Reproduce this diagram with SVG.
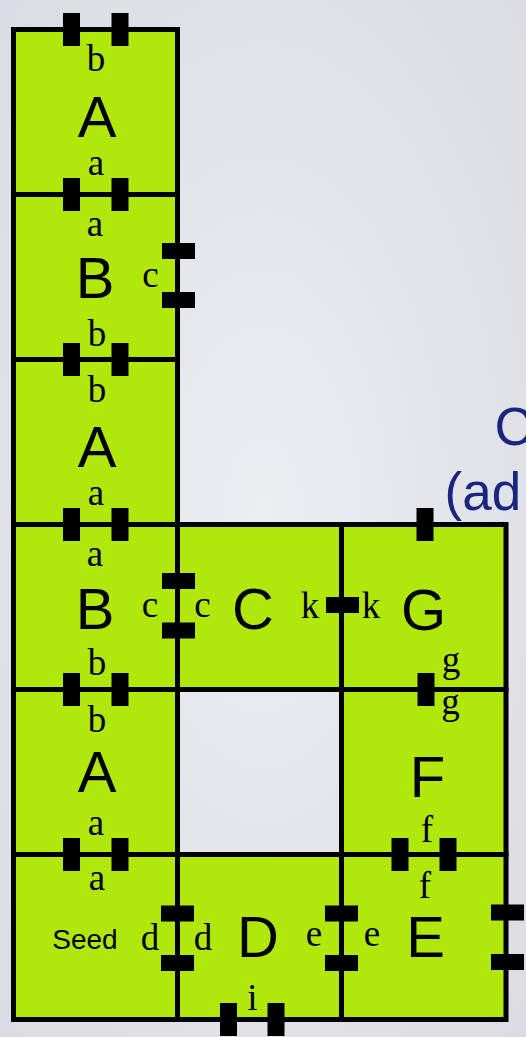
<svg xmlns="http://www.w3.org/2000/svg" width="526" height="1037" viewBox="0 0 526 1037">
<defs>
<radialGradient id="bg" cx="50%" cy="50%" r="75%">
<stop offset="0" stop-color="#eceef2"/>
<stop offset="1" stop-color="#d8dbe1"/>
</radialGradient>
<style>
.tile{fill:#b0e80c;stroke:#000;stroke-width:5}
.tab{fill:#000}
.s{font-family:"Liberation Serif","Times New Roman",serif;font-size:37px;fill:#000;text-anchor:middle}
.L{font-family:"Liberation Sans",Arial,sans-serif;font-size:58px;fill:#000;text-anchor:middle}
.seed{font-family:"Liberation Sans",Arial,sans-serif;font-size:28px;fill:#000;text-anchor:middle}
.t{font-family:"Liberation Sans",Arial,sans-serif;font-size:53px;fill:#1a2580}
</style>
</defs>
<rect x="0" y="0" width="526" height="1037" fill="url(#bg)"/>
<g id="title">
<text class="t" x="494.5" y="445">C</text>
<text class="t" x="444.5" y="510">(ad</text>
</g>
<g id="tile-A1">
<rect class="tile" x="13.5" y="29.5" width="164" height="165"/>
<text class="s" x="96" y="71">b</text>
<text class="L" x="97" y="137">A</text>
<text class="s" x="96" y="175">a</text>
</g>
<g id="tile-B2">
<rect class="tile" x="13.5" y="194.5" width="164" height="165"/>
<text class="s" x="95" y="236">a</text>
<text class="L" x="95" y="298">B</text>
<text class="s" x="150.5" y="287">c</text>
<text class="s" x="97" y="346">b</text>
</g>
<g id="tile-A3">
<rect class="tile" x="13.5" y="359.5" width="164" height="165"/>
<text class="s" x="97" y="402">b</text>
<text class="L" x="97" y="467">A</text>
<text class="s" x="96" y="505">a</text>
</g>
<g id="tile-B4">
<rect class="tile" x="13.5" y="524.5" width="164" height="165"/>
<text class="s" x="95" y="566">a</text>
<text class="L" x="95" y="629">B</text>
<text class="s" x="150" y="617">c</text>
<text class="s" x="97" y="675">b</text>
</g>
<g id="tile-A5">
<rect class="tile" x="13.5" y="689.5" width="164" height="165"/>
<text class="s" x="97" y="732">b</text>
<text class="L" x="97" y="792">A</text>
<text class="s" x="96" y="835">a</text>
</g>
<g id="tile-Seed">
<rect class="tile" x="13.5" y="854.5" width="164" height="165"/>
<text class="s" x="97" y="890">a</text>
<text class="seed" x="85" y="949">Seed</text>
<text class="s" x="150" y="950">d</text>
</g>
<g id="tile-C">
<rect class="tile" x="177.5" y="524.5" width="164" height="165"/>
<text class="s" x="202.5" y="617">c</text>
<text class="L" x="253" y="629">C</text>
<text class="s" x="310" y="618">k</text>
</g>
<g id="tile-G">
<rect class="tile" x="341.5" y="524.5" width="164.5" height="165"/>
<text class="s" x="371" y="618">k</text>
<text class="L" x="423.5" y="630">G</text>
<text class="s" x="451" y="672">g</text>
</g>
<g id="tile-F">
<rect class="tile" x="341.5" y="689.5" width="164.5" height="165"/>
<text class="s" x="450.5" y="714">g</text>
<text class="L" x="427.5" y="797">F</text>
<text class="s" x="427" y="842">f</text>
</g>
<g id="tile-D">
<rect class="tile" x="177.5" y="854.5" width="164" height="165"/>
<text class="s" x="203" y="950">d</text>
<text class="L" x="258" y="957">D</text>
<text class="s" x="314" y="946">e</text>
<text class="s" x="252.5" y="1010">i</text>
</g>
<g id="tile-E">
<rect class="tile" x="341.5" y="854.5" width="164.5" height="165"/>
<text class="s" x="425" y="898">f</text>
<text class="s" x="372" y="946">e</text>
<text class="L" x="425.5" y="957">E</text>
</g>
<g id="glues">
<rect class="tab" x="63" y="13" width="17" height="33"/>
<rect class="tab" x="111.5" y="13" width="17" height="33"/>
<rect class="tab" x="63" y="178" width="17" height="33"/>
<rect class="tab" x="111.5" y="178" width="17" height="33"/>
<rect class="tab" x="63" y="343" width="17" height="33"/>
<rect class="tab" x="111.5" y="343" width="17" height="33"/>
<rect class="tab" x="63" y="508" width="17" height="33"/>
<rect class="tab" x="111.5" y="508" width="17" height="33"/>
<rect class="tab" x="63" y="673" width="17" height="33"/>
<rect class="tab" x="111.5" y="673" width="17" height="33"/>
<rect class="tab" x="63" y="838" width="17" height="33"/>
<rect class="tab" x="111.5" y="838" width="17" height="33"/>
<rect class="tab" x="162" y="243" width="33" height="16"/>
<rect class="tab" x="162" y="292" width="33" height="16"/>
<rect class="tab" x="162" y="573" width="33" height="16"/>
<rect class="tab" x="162" y="622.5" width="33" height="16"/>
<rect class="tab" x="326" y="597" width="33" height="16"/>
<rect class="tab" x="416.5" y="508" width="17" height="33"/>
<rect class="tab" x="417.5" y="673" width="17" height="33"/>
<rect class="tab" x="391.5" y="838" width="17" height="33"/>
<rect class="tab" x="439.5" y="838" width="17" height="33"/>
<rect class="tab" x="161" y="905.5" width="33" height="16"/>
<rect class="tab" x="161" y="955" width="33" height="16"/>
<rect class="tab" x="325" y="905.5" width="33" height="16"/>
<rect class="tab" x="325" y="955" width="33" height="16"/>
<rect class="tab" x="491" y="904.5" width="33" height="16"/>
<rect class="tab" x="491" y="954" width="33" height="16"/>
<rect class="tab" x="220" y="1003" width="17" height="33"/>
<rect class="tab" x="267.5" y="1003" width="17" height="33"/>
</g>
</svg>
